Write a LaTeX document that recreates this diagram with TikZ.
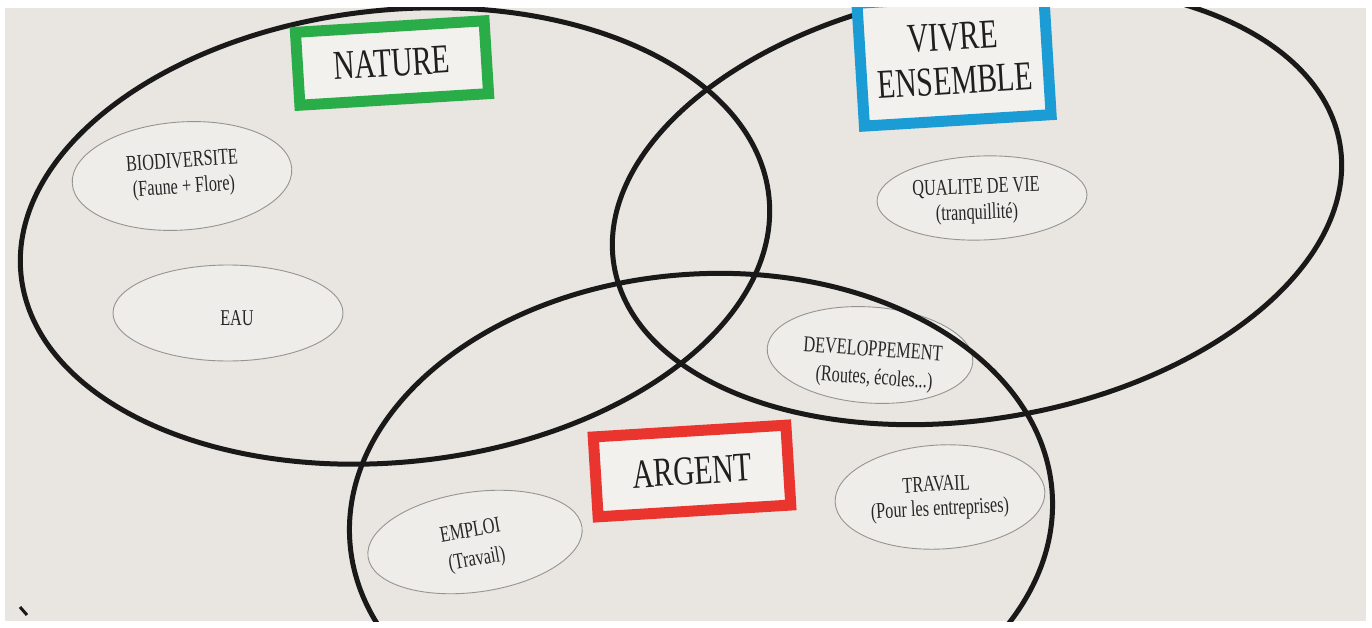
\documentclass[tikz,border=0pt]{standalone}
\usepackage{fontspec}
\setmainfont{Liberation Serif}
\newfontfamily\condserif[FakeStretch=0.72]{Liberation Serif}
\definecolor{paper}{RGB}{233,229,224}
\definecolor{cardfill}{RGB}{239,237,234}
\definecolor{pencil}{RGB}{150,148,145}
\definecolor{ink}{RGB}{25,25,25}
\definecolor{natgreen}{RGB}{42,172,72}
\definecolor{vivblue}{RGB}{28,156,212}
\definecolor{argred}{RGB}{234,52,46}
\definecolor{boxin}{RGB}{243,241,238}
\begin{document}
\begin{tikzpicture}[x=1pt,y=-1pt,
  bigring/.style={draw=ink,line width=5pt},
  cardshape/.style={fill=cardfill,draw=pencil,line width=0.9pt},
  lab/.style={font=\condserif\fontsize{22.6}{25}\selectfont,text=black!85,inner sep=0pt},
  titlebox/.style={draw=#1,line width=11pt,fill=boxin,inner sep=0pt,align=center,
    font=\condserif\fontsize{41}{44}\selectfont,text=black!88}
]
\useasboundingbox (0,0) rectangle (1372,628);
\fill[white] (0,0) rectangle (1372,628);
\fill[paper] (5,8) rectangle (1366,621);
\begin{scope}
\clip (5,8) rectangle (1366,621);
% cards
\draw[cardshape,rotate around={4:(182,176)}] (182,176) ellipse [x radius=110, y radius=54];
\draw[cardshape] (228,313) ellipse [x radius=115, y radius=48];
\draw[cardshape,rotate around={2:(982,198)}] (982,198) ellipse [x radius=105, y radius=42];
\draw[cardshape,rotate around={-4:(870,355)}] (870,355) ellipse [x radius=103, y radius=48];
\draw[cardshape,rotate around={3:(940,497)}] (940,497) ellipse [x radius=105, y radius=52];
\draw[cardshape,rotate around={8:(475,542)}] (475,542) ellipse [x radius=108, y radius=50];
% card labels
\node[lab,rotate=4] (bio1) at (182,160) {BIODIVERSITE};
\node[lab,rotate=4] (bio2) at (184,188) {(Faune + Flore)};
\node[lab] (eau) at (237,318) {EAU};
\node[lab,rotate=2] (qual1) at (976,188) {QUALITE DE VIE};
\node[lab,rotate=2] (qual2) at (977,214) {(tranquillité)};
\node[lab,rotate=-4] (dev1) at (873,349) {DEVELOPPEMENT};
\node[lab,rotate=-4] (dev2) at (874,379) {(Routes, écoles...)};
\node[lab,rotate=3] (trav1) at (936,484) {TRAVAIL};
\node[lab,rotate=3] (trav2) at (940,510) {(Pour les entreprises)};
\node[lab,rotate=10] (empl1) at (470,530) {EMPLOI};
\node[lab,rotate=10] (empl2) at (477,560) {(Travail)};
% big rings
\draw[bigring,rotate around={6:(395,236)}] (395,236) ellipse [x radius=376, y radius=226];
\draw[bigring,rotate around={9.5:(977,205)}] (977,205) ellipse [x radius=368, y radius=214];
\draw[bigring,rotate around={4:(701,517)}] (701,517) ellipse [x radius=352, y radius=243];
% title boxes
\node[titlebox=natgreen,minimum width=189pt,minimum height=73pt,rotate=3.5] (nature) at (392,63) {NATURE};
\node[titlebox=vivblue,minimum width=187pt,minimum height=123pt,rotate=3.5] (vivre) at (954,59) {VIVRE\\ENSEMBLE};
\node[titlebox=argred,minimum width=193pt,minimum height=80pt,rotate=3.5] (argent) at (692,471) {ARGENT};
% small mark
\draw[ink,line width=3pt] (20,607) -- (27,615);
\end{scope}
\end{tikzpicture}
\end{document}
